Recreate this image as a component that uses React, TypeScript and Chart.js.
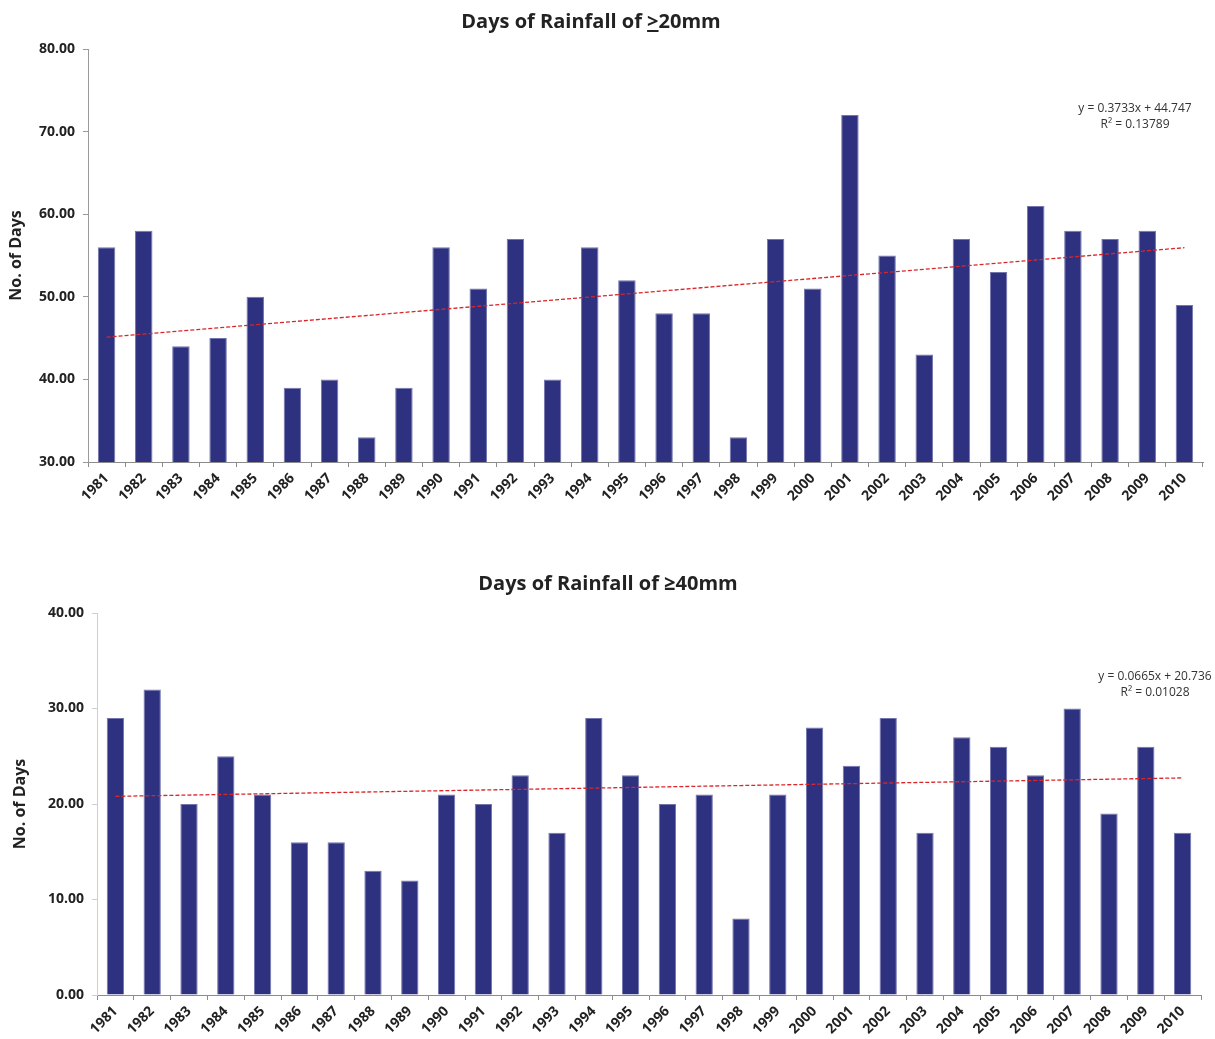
import React, { useEffect, useRef } from "react";
import { Chart, registerables } from "chart.js";

Chart.register(...registerables);

const years = [
  "1981", "1982", "1983", "1984", "1985", "1986", "1987", "1988", "1989", "1990",
  "1991", "1992", "1993", "1994", "1995", "1996", "1997", "1998", "1999", "2000",
  "2001", "2002", "2003", "2004", "2005", "2006", "2007", "2008", "2009", "2010",
];

const days20 = [56, 58, 44, 45, 50, 39, 40, 33, 39, 56, 51, 57, 40, 56, 52, 48, 48, 33, 57, 51, 72, 55, 43, 57, 53, 61, 58, 57, 58, 49];
const days40 = [29, 32, 20, 25, 21, 16, 16, 13, 12, 21, 20, 23, 17, 29, 23, 20, 21, 8, 21, 28, 24, 29, 17, 27, 26, 23, 30, 19, 26, 17];

const title20 = "Days of Rainfall of >20mm";
const title40 = "Days of Rainfall of ≥40mm";

const yRange20 = [30, 80];
const yRange40 = [0, 40];
const yStep = 10;

const trend20Slope = 0.3733;
const trend20Intercept = 44.747;
const trend20Labels = ["y = 0.3733x + 44.747", "R² = 0.13789"];

const trend40Slope = 0.0665;
const trend40Intercept = 20.736;
const trend40Labels = ["y = 0.0665x + 20.736", "R² = 0.01028"];

const FONT = '"Open Sans", "DejaVu Sans", sans-serif';
const BAR_COLOR = "#2E3080";

const annotPlugin = {
  id: "annot",
  afterDraw(chart: any, _args: any, opts: any) {
    const ctx = chart.ctx;
    ctx.save();
    ctx.fillStyle = "#222";
    ctx.font = `bold 20px ${FONT}`;
    ctx.textAlign = "center";
    ctx.textBaseline = "alphabetic";
    ctx.fillText(opts.title, opts.titleX, opts.titleY);
    if (opts.underlineIndex >= 0) {
      const total = ctx.measureText(opts.title).width;
      const start = opts.titleX - total / 2;
      const pre = ctx.measureText(opts.title.slice(0, opts.underlineIndex)).width;
      const w = ctx.measureText(opts.title[opts.underlineIndex]).width;
      ctx.fillRect(start + pre, opts.titleY + 2, w, 2);
    }
    ctx.font = `12px ${FONT}`;
    ctx.fillStyle = "#333";
    const lines: string[] = opts.eqLines;
    lines.forEach((l, i) => {
      ctx.fillText(l, opts.eqX, opts.eqY + i * 16);
    });
    ctx.restore();
  },
};

type Props = {
  top: number;
  height: number;
  values: number[];
  title: string;
  underlineIndex: number;
  titleX: number;
  titleY: number;
  yRange: number[];
  slope: number;
  intercept: number;
  eqLines: string[];
  eqX: number;
  eqY: number;
  plotTop: number;
  plotLeft: number;
  plotRight: number;
  plotBottom: number;
  yBorder: string;
  yTitlePad: number;
};

function RainChart(p: Props) {
  const ref = useRef<HTMLCanvasElement | null>(null);
  useEffect(() => {
    if (!ref.current) return;
    const trend = years.map((_, i) => p.slope * (i + 1) + p.intercept);
    const chart = new Chart(ref.current, {
      type: "bar",
      data: {
        labels: years,
        datasets: [
          {
            type: "line",
            data: trend,
            borderColor: "#D9262A",
            borderWidth: 1.3,
            borderDash: [4, 2],
            pointRadius: 0,
            fill: false,
            order: 0,
          } as any,
          {
            type: "bar",
            data: p.values,
            backgroundColor: BAR_COLOR,
            borderColor: "#7375AE",
            borderWidth: 1,
            categoryPercentage: 1,
            barPercentage: 0.47,
            order: 1,
          },
        ],
      },
      options: {
        responsive: false,
        animation: false,
        layout: {
          padding: { top: p.plotTop, left: 0, right: 1215 - p.plotRight, bottom: 0 },
        },
        plugins: {
          legend: { display: false },
          tooltip: { enabled: false },
          title: { display: false },
          annot: {
            title: p.title,
            underlineIndex: p.underlineIndex,
            titleX: p.titleX,
            titleY: p.titleY,
            eqLines: p.eqLines,
            eqX: p.eqX,
            eqY: p.eqY,
          },
        } as any,
        scales: {
          x: {
            offset: true,
            grid: {
              display: true,
              offset: true,
              drawOnChartArea: false,
              drawTicks: true,
              tickLength: 5,
              color: "#8c8c8c",
            },
            border: { display: true, color: "#8c8c8c", width: 1 },
            ticks: {
              autoSkip: false,
              minRotation: 45,
              maxRotation: 45,
              color: "#222",
              padding: 3,
              font: { family: FONT, size: 14, weight: "bold" },
            },
            afterFit: (scale: any) => {
              scale.height = p.height - p.plotBottom;
            },
          },
          y: {
            min: p.yRange[0],
            max: p.yRange[1],
            grid: {
              display: true,
              drawOnChartArea: false,
              drawTicks: true,
              tickLength: 5,
              color: p.yBorder,
            },
            border: { display: true, color: p.yBorder, width: 1 },
            ticks: {
              stepSize: yStep,
              color: "#222",
              padding: 8,
              font: { family: FONT, size: 14, weight: "bold" },
              callback: (v: any) => Number(v).toFixed(2),
            },
            title: {
              display: true,
              text: "No. of Days",
              color: "#222",
              font: { family: FONT, size: 16, weight: "bold" },
              padding: { top: p.yTitlePad, bottom: 0 },
            },
            afterFit: (scale: any) => {
              scale.width = p.plotLeft;
            },
          },
        },
      },
      plugins: [annotPlugin],
    });
    return () => chart.destroy();
  }, []);
  return (
    <canvas
      ref={ref}
      width={1215}
      height={p.height}
      style={{ position: "absolute", left: 0, top: p.top, width: 1215, height: p.height }}
    />
  );
}

export default function App() {
  return (
    <div style={{ position: "absolute", left: 0, top: 0, width: 1215, height: 1039, background: "#fff" }}>
      <RainChart
        top={0}
        height={540}
        values={days20}
        title={title20}
        underlineIndex={title20.indexOf(">")}
        titleX={591}
        titleY={28}
        yRange={yRange20}
        slope={trend20Slope}
        intercept={trend20Intercept}
        eqLines={trend20Labels}
        eqX={1135}
        eqY={112}
        plotTop={49}
        plotLeft={88}
        plotRight={1203}
        plotBottom={462}
        yBorder="#9a9a9a"
        yTitlePad={7}
      />
      <RainChart
        top={545}
        height={494}
        values={days40}
        title={title40}
        underlineIndex={-1}
        titleX={608}
        titleY={45}
        yRange={yRange40}
        slope={trend40Slope}
        intercept={trend40Intercept}
        eqLines={trend40Labels}
        eqX={1155}
        eqY={135}
        plotTop={68}
        plotLeft={97}
        plotRight={1201}
        plotBottom={450}
        yBorder="#c8d0da"
        yTitlePad={11}
      />
    </div>
  );
}
